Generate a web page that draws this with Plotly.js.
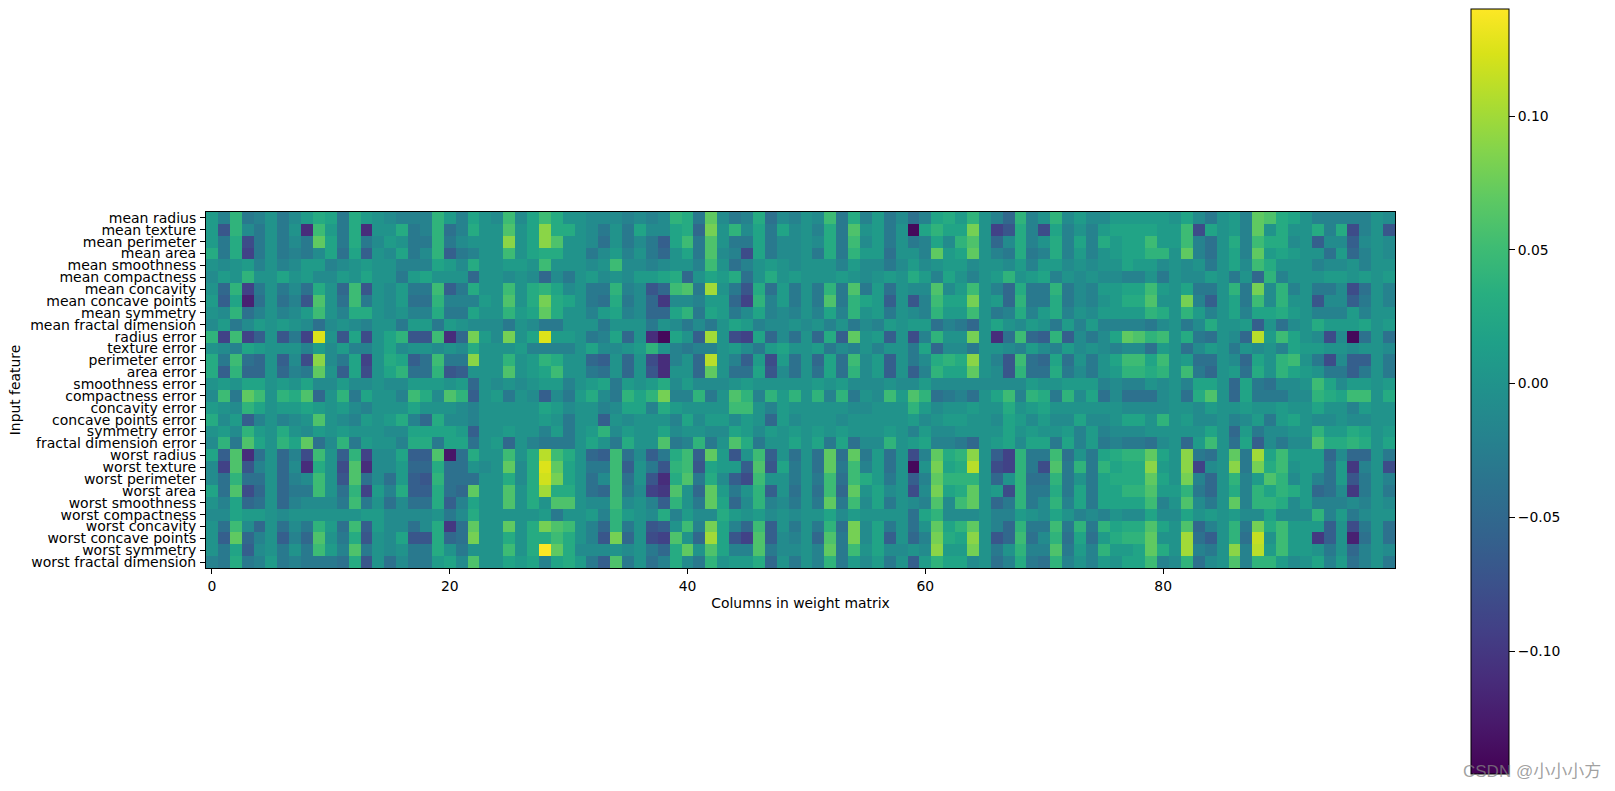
<!DOCTYPE html>
<html>
<head>
<meta charset="utf-8">
<script src="https://cdn.plot.ly/plotly-3.0.1.min.js"></script>
<style>html,body{margin:0;padding:0;background:#fff;overflow:hidden}</style>
</head>
<body>
<div id="chart" style="width:1615px;height:791px"></div>
<script>
var features = ["mean radius","mean texture","mean perimeter","mean area","mean smoothness","mean compactness","mean concavity","mean concave points","mean symmetry","mean fractal dimension","radius error","texture error","perimeter error","area error","smoothness error","compactness error","concavity error","concave points error","symmetry error","fractal dimension error","worst radius","worst texture","worst perimeter","worst area","worst smoothness","worst compactness","worst concavity","worst concave points","worst symmetry","worst fractal dimension"];
// weights in hundredths
var row00 = [1,-2,4,-3,-2,0,-3,-1,1,3,2,-3,3,1,0,-1,-2,-2,-2,4,1,-2,2,0,-1,5,-1,2,5,3,0,0,-1,-1,-1, -2,-1,-2,-1,4,3,-3,7,-1,-3,-2,3,-4,-1,-2,0,-1,5,-3,3,-2,1,-3,-1,-4,-2,2,3,1,4,0,-2,-5, 4,-2,0,4,-1,1,-1,-1,1,1,1,1,1,0,2,-1,-3,0,1,-2,7,6,3,2,0,-2,-2,-2,-2,-2,0,-1];
var row01 = [1,-7,4,-1,-3,0,-3,0,-11,5,1,-3,3,-11,0,0,3,-3,-2,4,-4,-2,3,0,0,6,0,2,9,3,3,0,-1,-3,0, -3,2,-1,-1,2,3,-5,8,0,4,-1,2,-3,2,-1,0,-2,3,-3,6,0,1,-3,0,-14,2,4,2,2,8,0,-9,-7, 3,-2,-8,2,-2,0,-2,1,2,2,2,2,1,1,5,-8,2,0,1,-2,7,0,3,0,0,3,-2,3,-8,-2,0,-7];
var row02 = [1,-3,3,-8,-3,0,-3,-1,-3,7,2,-3,3,-3,-1,1,0,-3,-3,4,-3,-1,0,0,0,9,0,2,9,6,0,0,-1,-4,0, -3,-1,-3,-6,2,5,-3,6,0,-3,-3,2,-3,-1,-1,0,-1,3,-3,5,-1,1,-3,0,-3,-2,2,-1,4,6,0,-5,-1, 3,-2,0,3,-2,2,-2,3,1,2,2,5,1,1,5,-2,-4,0,3,-2,5,3,3,-1,0,-6,-1,-1,-6,-1,0,-1];
var row03 = [3,-3,3,-9,-3,0,-3,-2,-3,-1,2,-4,2,-6,0,-1,2,-3,-1,4,-6,-3,-2,0,0,5,0,2,3,3,0,0,-3,-1,1, -2,0,-3,-5,0,2,-3,6,-1,-2,-8,2,-3,-1,-1,0,-3,3,-3,4,1,1,-4,0,0,-2,7,1,2,7,0,-2,-3, 3,-3,-2,3,-2,1,-2,0,1,2,2,4,4,0,7,-2,-4,0,2,-2,7,1,2,1,0,0,-4,1,-5,-2,0,-1];
var row04 = [0,-1,0,1,-2,0,-2,-1,1,1,-2,-1,0,1,0,0,-2,-2,-2,2,1,-1,3,0,0,1,1,0,5,0,0,0,-1,0,5, -1,-1,-2,-1,0,0,-2,5,0,-4,-2,0,1,0,-1,0,0,0,-2,1,-1,-1,-3,-1,1,-1,0,1,1,-1,0,0,-1, 1,-2,1,1,-1,0,-1,0,0,2,1,1,-1,0,-1,0,-3,0,2,-1,5,3,0,0,0,-2,-1,-1,0,-2,0,0];
var row05 = [-1,1,0,4,0,0,2,0,1,-1,-1,1,0,2,0,0,-3,1,2,0,0,0,-5,0,0,-1,0,-1,-5,-1,-3,0,1,-1,0, -1,1,1,2,3,-5,0,2,1,3,-4,0,3,0,1,0,0,0,1,0,-1,0,1,0,3,1,-2,2,0,-2,0,1,4, 0,1,2,-2,0,-1,0,-1,-1,-2,-2,0,-3,0,-1,-1,1,0,-3,0,-5,4,-2,0,0,0,1,1,0,1,0,1];
var row06 = [0,-5,4,-9,-3,0,-3,-1,-4,3,0,-5,5,-7,0,-1,1,-3,-3,5,-6,-3,3,0,0,5,0,3,4,2,-1,0,-3,-3,4, -2,-1,-7,-5,5,6,-3,10,0,-3,-7,3,-4,1,-3,0,-3,4,-3,6,-3,1,-4,0,-1,-1,6,-1,1,5,0,-2,-5, 3,-3,-3,4,-3,-1,-2,1,1,2,2,5,1,0,2,-3,-3,0,4,-3,8,-1,4,-2,0,-3,-3,-1,-8,-4,0,-2];
var row07 = [1,-6,2,-12,-4,0,-4,-2,-7,6,0,-4,5,-3,0,-1,1,-4,-4,4,-2,-2,-2,1,0,6,0,3,8,3,2,0,-3,-4,3, -3,-1,-5,-10,-1,-1,-2,1,1,-5,-9,4,-2,1,-3,0,-3,6,-3,4,2,1,-6,0,-7,-2,5,2,2,8,0,1,-5, 4,-3,-3,3,-3,-1,-2,0,1,3,3,6,0,0,8,-2,-6,0,2,-3,5,-1,4,0,0,-7,-1,-1,-6,-3,0,-2];
var row08 = [0,-1,4,-4,-2,0,-2,-1,1,5,0,-2,3,3,0,-1,0,-2,-2,3,-3,-3,2,0,0,4,1,2,7,3,0,0,-2,1,2, -2,-1,-5,-5,2,4,-3,2,1,-3,-1,2,-2,-1,-2,0,-2,2,-2,4,0,1,-3,0,-1,-2,4,1,1,5,0,-3,-2, 3,-2,1,3,-2,0,-1,1,1,1,1,4,3,0,4,1,-2,0,2,-2,2,2,3,1,0,-2,-2,-2,1,-2,0,0];
var row09 = [-1,1,-3,-1,1,0,1,0,-1,-4,-1,0,-1,-2,0,0,-3,1,1,-3,1,0,-1,-1,-1,-3,0,-1,-3,-3,0,0,0,-3,0, 0,0,-3,0,-1,-3,-1,-3,0,2,1,-2,-1,-1,0,-1,0,-2,0,-3,-1,-2,1,0,1,1,-4,-2,-3,-5,0,2,0, -1,1,0,-3,1,-2,1,-2,-2,-2,-2,-3,-1,0,-3,-1,3,0,0,1,-6,0,-4,-1,0,3,1,1,1,2,0,1];
var row10 = [4,-9,5,-9,-6,0,-7,-3,-9,12.5,0,-7,2,-8,0,2,4,-7,-7,5,-11,-5,8,1,-1,8,0,2,12.5,1,1,0,-3,-2,2, -5,0,-11,-14,2,0,-6,10,0,-8,-9,2,-5,-1,-4,0,-5,3,-6,7,0,1,-6,0,-8,-2,4,0,0,8,0,-11,-4, 5,-5,-6,4,-6,-1,-3,-1,2,7,6,4,5,0,3,-3,-4,0,-1,-5,11,1,5,2,0,-1,-8,-1,-14,-4,0,-4];
var row11 = [0,-1,-2,2,1,0,0,0,-2,1,-1,1,-2,-2,0,2,-1,0,0,-1,0,-1,3,0,0,0,1,-2,-2,-2,-2,0,2,-1,-1, 0,1,4,0,-2,-3,-2,-2,0,1,-1,-3,1,2,0,0,1,-3,-1,-2,0,-2,0,0,-3,2,-5,-1,-1,-3,0,0,-1, -2,1,-1,-2,1,-1,0,-1,-2,-1,-1,-4,1,0,-4,-1,1,0,-3,0,-1,0,-2,2,1,1,0,0,-1,0,0,-1];
var row12 = [3,-3,5,-4,-5,0,-6,-1,-8,9,-1,-3,2,-9,0,3,2,-6,-4,5,-3,-3,9,0,0,4,0,1,4,3,0,0,-5,-6,0, -5,0,-8,-11,-2,0,-5,11,0,-2,-6,1,-8,1,-4,0,-5,2,-4,5,-1,1,-6,0,-3,-1,3,4,3,9,0,-2,-7, 5,-4,-5,2,-4,0,-3,0,2,5,5,2,5,0,1,-4,-4,0,-1,-5,2,0,4,5,0,-3,-8,-1,-6,-6,0,-3];
var row13 = [3,-6,4,-5,-5,0,-5,-2,-3,7,0,-6,2,-8,0,2,4,-4,-4,4,-7,-6,0,0,0,6,0,1,2,5,0,0,-3,-4,0, -5,0,-7,-11,0,0,-5,7,0,-4,-4,2,-7,-1,-4,0,-4,2,-4,4,-1,1,-6,0,-6,-2,4,2,2,7,0,-1,-7, 4,-4,-4,3,-3,-1,-3,0,1,4,4,3,4,0,5,-3,-5,0,1,-4,3,0,4,2,1,0,-3,-3,-6,-3,0,-3];
var row14 = [0,1,0,2,2,0,1,0,2,-1,-1,1,-1,-1,0,-1,-1,1,1,1,0,1,-5,0,-1,0,-1,0,1,1,-2,0,1,2,-3, 1,0,1,3,-1,1,-1,-1,-1,0,1,0,0,0,0,0,1,0,1,-1,-1,-1,0,-1,-1,1,-1,-1,-1,-1,-1,-1,-1, -1,1,0,0,1,1,1,-2,-1,-2,-2,0,-1,0,-2,2,2,0,-5,2,-3,-4,-1,-1,0,5,2,-1,1,1,0,1];
var row15 = [-1,5,-3,7,5,0,4,3,6,-5,0,4,-3,2,0,0,-2,5,3,-1,6,4,-6,0,1,-3,0,-1,-6,-1,-3,1,3,-1,-3, 4,2,4,8,-2,-2,4,-3,0,6,4,-2,4,1,4,0,4,-2,4,-3,0,-1,5,1,6,4,-4,-3,-2,-4,0,2,5, -2,4,3,-3,4,-1,2,-4,-1,-4,-4,-4,-1,0,-4,3,6,0,-5,2,-3,-3,-3,-1,-1,4,3,2,5,5,0,3];
var row16 = [1,0,-1,4,2,0,1,1,2,1,0,1,-1,-2,0,0,0,2,0,0,0,-1,-2,0,0,0,0,0,2,1,-1,0,0,-2,-1, 2,2,-2,3,1,0,0,0,0,5,5,0,-2,1,0,0,0,0,0,-1,-1,0,0,0,4,1,-1,0,0,1,0,0,3, 0,1,2,0,0,0,0,0,0,-1,-1,-1,-1,0,0,-1,1,0,0,1,0,0,1,0,0,2,0,0,-2,1,0,0];
var row17 = [3,-1,1,-6,-2,0,-2,-1,0,6,0,-1,-2,1,0,1,3,-2,-5,3,-1,-1,-2,0,0,0,0,0,1,0,-3,0,0,-6,0, -1,0,0,0,-2,2,-1,1,1,-1,1,0,-5,1,-1,0,0,0,-1,0,0,0,0,0,1,-1,0,1,1,0,0,-1,2, 1,-1,1,-1,-1,2,-1,-1,0,2,2,0,4,0,1,-1,-1,0,-2,-1,1,-3,1,2,0,-1,-1,0,-1,-1,0,0];
var row18 = [0,1,-1,4,1,0,3,0,-1,1,0,1,0,0,0,-1,-1,2,2,2,2,1,-6,0,0,1,0,0,-2,1,-3,0,1,4,-1, 1,0,0,2,-1,0,0,-1,-1,2,1,-1,1,0,1,0,1,0,1,0,0,0,1,0,-2,1,-1,-1,0,0,0,0,2, 0,1,0,0,1,-2,1,-2,-1,-1,-1,0,0,0,0,0,2,0,-5,1,-3,-1,-1,0,0,4,1,1,3,2,0,1];
var row19 = [-1,4,-3,6,2,0,4,2,7,-4,-1,4,-3,1,0,0,-2,3,3,-3,2,2,-4,0,1,-5,0,-2,-3,-3,-3,0,2,0,-3, 3,0,0,6,-3,-2,4,-3,0,6,3,-3,0,0,2,0,2,-3,2,-4,-1,-1,4,0,1,2,-2,-2,-3,-5,0,1,2, -1,2,2,-3,2,-2,1,-3,-2,-3,-3,-4,-1,0,-5,1,5,0,-4,2,-6,-1,-3,-1,-1,6,3,3,4,3,0,2];
var row20 = [2,-6,6,-11,-4,0,-5,-2,-8,5,0,-6,4,-9,-1,-1,2,-6,-6,6,-13,-4,3,0,0,5,0,3,11,5,3,0,-5,-6,5, -4,-1,-6,-3,3,5,-6,7,1,-7,0,5,-6,0,-4,0,-4,7,-4,7,-3,1,-4,0,-8,-2,7,3,4,9,0,-6,-9, 4,-3,-3,5,-4,0,-3,2,3,4,4,7,2,0,9,-3,-4,0,7,-3,10,2,5,1,1,1,-5,-1,-5,-5,0,-3];
var row21 = [-1,-9,6,-7,-2,0,-5,-1,-11,3,0,-8,6,-11,-1,-1,1,-5,-5,3,-4,-4,0,-1,0,7,-1,3,12.5,7,2,0,-3,-3,5, -6,0,-3,-7,4,5,-7,2,1,1,-6,6,-7,2,-3,0,-4,7,-3,5,-2,1,-4,0,-14,0,8,2,3,11,0,-8,-9, 4,-3,-8,6,-3,4,-3,4,2,3,3,9,1,0,9,-9,-1,0,9,-3,8,3,5,0,1,1,-4,1,-10,-2,0,-8];
var row22 = [-1,-4,4,-4,-4,0,-5,-2,-1,5,0,-7,6,-4,-1,-4,1,-6,-7,4,-4,-4,-4,0,0,3,-1,3,12,8,2,0,-4,-1,5, -4,0,-7,-11,3,6,-3,3,-1,-6,-8,5,0,0,-3,0,-3,5,-4,5,3,1,-3,0,-6,-2,7,4,4,4,0,-5,0, 4,-4,-4,4,-3,0,-3,2,3,3,3,7,2,0,8,-2,-5,0,4,-2,1,6,4,-1,1,-2,-4,1,-7,-3,0,-2];
var row23 = [2,-4,6,-8,-5,0,-5,-3,-3,5,0,-4,4,-9,1,-2,3,-6,-6,3,-4,-5,7,0,0,6,0,3,10,3,3,0,-4,-5,5, -3,-1,-9,-10,6,0,-5,7,1,-3,0,4,-6,0,-4,0,-4,5,-5,7,0,2,-1,0,-8,-1,8,2,3,7,0,1,-8, 4,-3,-3,3,-3,2,-3,2,2,4,4,6,1,1,4,-3,-5,0,3,-2,4,2,4,3,1,-5,-4,-1,-10,-3,0,-3];
var row24 = [0,-2,2,-5,-4,0,-5,-2,-1,-1,-1,-3,5,-3,0,-4,-1,-4,-4,3,-6,-2,2,0,0,6,0,3,0,6,6,0,-1,-1,5, -1,0,-2,-6,4,0,-3,7,2,-5,-1,4,-2,-1,-3,0,-3,7,-3,5,-1,2,-3,0,-1,-2,6,-1,5,7,0,-5,-3, 4,-3,-1,4,-2,2,-3,2,2,2,2,5,-2,0,6,-1,-3,0,7,-2,4,4,3,-1,1,-2,-2,-2,-1,-2,0,-1];
var row25 = [-1,-1,2,1,1,0,-1,0,0,0,0,0,0,1,1,-1,-1,-1,-1,0,-3,-1,3,0,0,0,0,0,1,-3,0,0,1,-2,4, 1,0,-1,3,-2,1,-1,-1,3,1,0,1,-1,0,-1,0,0,2,-1,1,0,0,0,0,-4,2,4,-1,-1,-1,0,-2,-2, 1,0,-1,2,0,-2,-1,-2,0,-1,-1,2,-1,-1,2,0,1,0,1,-1,-1,2,-1,-1,-1,4,-2,1,-3,-1,0,0];
var row26 = [0,-4,5,-1,-5,0,-4,-1,-3,4,1,-4,5,-6,1,-1,-1,-4,-1,3,-10,-4,7,0,0,7,0,3,8,6,5,0,-2,-5,4, -3,0,-7,-6,0,5,-2,8,2,-2,-5,5,-6,0,-3,0,-3,4,-4,8,-1,2,-3,0,-4,0,7,2,4,7,0,-2,-5, 4,-3,-3,5,-3,4,-3,4,2,3,3,6,2,0,6,-5,-2,0,4,-3,8,3,5,1,1,1,-6,0,-8,-3,0,-4];
var row27 = [0,-6,7,-5,-2,0,-6,-2,-5,6,0,-3,3,-7,0,-1,2,-7,-7,3,-5,-4,8,0,0,3,0,3,3,5,3,0,-2,-7,8, -5,0,-8,-9,6,0,-5,10,2,-7,-9,6,-6,-1,-2,0,-5,6,-3,8,-1,2,-6,0,-5,-2,8,3,2,9,0,-7,-5, 5,-4,-1,4,-4,2,-4,1,3,4,4,7,0,0,10,-4,-6,0,4,-4,11.5,0,5,1,1,-10,-6,0,-12,-4,0,-4];
var row28 = [0,-3,2,-6,-1,0,-3,0,-3,5,1,-2,6,-3,0,-1,0,-3,-3,3,0,-3,0,0,0,5,0,3,14,7,3,-1,-1,-1,0, -1,0,-3,-5,3,7,0,6,2,-2,-2,6,-3,-1,-1,0,-2,7,-3,5,0,2,-1,-1,0,-1,9,1,1,8,0,-3,0, 4,-2,-2,6,-3,1,-2,4,1,1,2,7,3,0,10,-2,-3,0,9,-2,11,1,5,1,1,0,-3,0,-5,-2,0,-1];
var row29 = [-2,-3,3,-3,-2,1,-3,-2,-3,-3,-3,-4,3,-7,0,-4,-1,-3,-3,1,2,-1,6,0,0,2,1,2,-2,2,3,1,-3,-6,6, -3,0,-4,-2,3,-1,-3,4,0,1,1,3,-5,0,-3,0,-2,4,-3,1,-1,1,-3,0,-6,1,4,2,2,-1,0,-4,-2, 3,-3,-4,4,-2,0,-2,1,0,2,2,5,-2,-1,4,-4,-1,0,6,-2,4,4,1,-1,0,2,-2,1,-4,-2,0,-3];
var rows = [row00,row01,row02,row03,row04,row05,row06,row07,row08,row09,row10,row11,row12,row13,row14,row15,row16,row17,row18,row19,row20,row21,row22,row23,row24,row25,row26,row27,row28,row29];
var zValues = rows.map(function(r){return r.map(function(v){return v/100;});});
var xTicks = [0,20,40,60,80];
var font = {family:'"DejaVu Sans", sans-serif', size:13.9, color:'#000'};

var W=1615, H=791;
var M = {l:205.5, r:220, t:211.5, b:222.5};
var plotW = W-M.l-M.r, plotH = H-M.t-M.b;
function px(x){return (x-M.l)/plotW;}
function py(y){return (H-M.b-y)/plotH;}
var trace = {
  type:'heatmap', z:zValues, colorscale:'Viridis', zmin:-0.146, zmax:0.14, zsmooth:false, hoverongaps:false,
  colorbar:{
    thickness:37.5, thicknessmode:'pixels', len:765, lenmode:'pixels',
    xref:'paper', yref:'paper', x:px(1471), xanchor:'left', xpad:0,
    y:py(8), yanchor:'top', ypad:0,
    outlinewidth:1, outlinecolor:'#000', borderwidth:0,
    ticks:'outside', ticklen:6, tickwidth:1, tickcolor:'#000',
    tickmode:'linear', tick0:0, dtick:0.05, tickformat:'.2f', ticklabeloverflow:'allow',
    tickfont:font
  }
};
var layout = {
  width:W, height:H, autosize:false,
  margin:{l:M.l, r:M.r, t:M.t, b:M.b, pad:0, autoexpand:false},
  paper_bgcolor:'#fff', plot_bgcolor:'#fff', font:font,
  xaxis:{range:[-0.5,99.5], tickmode:'array', tickvals:xTicks, ticktext:xTicks.map(String),
    ticks:'outside', ticklen:5, tickwidth:1, tickcolor:'#000', showgrid:false, zeroline:false,
    showline:true, mirror:true, linecolor:'#000', linewidth:1,
    title:{text:'Columns in weight matrix', font:font, standoff:5}, tickfont:font},
  yaxis:{range:[29.5,-0.5], tickmode:'array', tickvals:features.map(function(f,i){return i;}), ticktext:features,
    ticks:'outside', ticklen:5, tickwidth:1, tickcolor:'#000', showgrid:false, zeroline:false,
    showline:true, mirror:true, linecolor:'#000', linewidth:1, ticklabelstandoff:1,
    title:{text:'Input feature', font:font, standoff:6}, tickfont:{family:font.family,size:14,color:'#000'}},
  annotations:[{text:'CSDN @\u5c0f\u5c0f\u5c0f\u65b9', xref:'paper', yref:'paper',
    x:px(1532), y:py(773), xanchor:'center', yanchor:'middle', showarrow:false,
    font:{family:'"Liberation Sans","Noto Sans CJK SC",sans-serif', size:17, color:'rgba(130,130,130,0.75)'}}]
};
Plotly.newPlot('chart',[trace],layout,{displayModeBar:false,staticPlot:true});
</script>
</body>
</html>
